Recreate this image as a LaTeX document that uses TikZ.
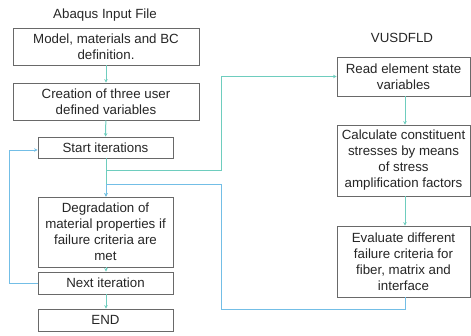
\documentclass[tikz,border=0pt]{standalone}
\usepackage{fontspec}
\setmainfont{Liberation Sans}
\usetikzlibrary{arrows.meta}
\definecolor{flowteal}{RGB}{110,205,190}
\definecolor{loopblue}{RGB}{115,190,230}
\definecolor{boxgray}{RGB}{105,105,105}
\begin{document}
\begin{tikzpicture}[x=1pt,y=-1pt,
  box/.style={draw=boxgray,line width=0.8pt,fill=white,align=center,inner sep=0pt,
    font=\fontsize{13.3}{16}\selectfont,text=black!85},
  ttl/.style={font=\fontsize{13.3}{16}\selectfont,text=black!85},
  fl/.style={draw=flowteal,line width=1pt,-{Stealth[length=3.5pt,width=3.5pt]}},
  lp/.style={draw=loopblue,line width=1pt,-{Stealth[length=3.5pt,width=3.5pt]}}]
\useasboundingbox (0,0) rectangle (471,335);
\node[ttl] (t1) at (105,15) {Abaqus Input File};
\node[ttl] (t2) at (402,38) {VUSDFLD};
\node[box,minimum width=186pt,minimum height=37pt] (b1) at (106,46.5) {Model, materials and BC\\definition.};
\node[box,minimum width=186pt,minimum height=37pt] (b2) at (106,101.5) {Creation of three user\\defined variables};
\node[box,minimum width=135pt,minimum height=21pt] (b3) at (105.5,147.5) {Start iterations};
\node[box,minimum width=135pt,minimum height=70pt] (b4) at (105.5,232) {Degradation of\\material properties if\\failure criteria are\\met};
\node[box,minimum width=135pt,minimum height=22pt] (b5) at (105.5,283) {Next iteration};
\node[box,minimum width=135pt,minimum height=22pt] (b6) at (105.5,320) {END};
\node[box,minimum width=133pt,minimum height=39pt] (r1) at (403.5,76.5) {Read element state\\variables};
\node[box,minimum width=133pt,minimum height=71pt] (r2) at (403.5,160.5) {Calculate constituent\\stresses by means\\of stress\\amplification factors};
\node[box,minimum width=133pt,minimum height=71pt] (r3) at (403.5,261.5) {Evaluate different\\failure criteria for\\fiber, matrix and\\interface};
\coordinate (c1) at (221,170);
\coordinate (c2) at (221,184);
\coordinate (c3) at (221,309);
\coordinate (c4) at (9,150);
\draw[fl] (b1) -- (b2);
\draw[fl] (b2) -- (b3);
\draw[fl] (b3.south -| 106,0) -- (b4.north -| 106,0);
\draw[fl] (b4.south -| 106,0) -- (b5.north -| 106,0);
\draw[fl] (b5.south -| 106,0) -- (b6.north -| 106,0);
\draw[fl] (r1.south -| 405,0) -- (r2.north -| 405,0);
\draw[fl] (r2.south -| 405,0) -- (r3.north -| 405,0);
\draw[fl] (c1 -| 106,0) -- (c1) |- (r1.west);
\draw[lp] (r3.south -| 405,0) |- (c3) -- (c2) -- (c2 -| 106,0) -- (b4.north -| 106,0);
\draw[lp] (b5.west) -| (c4) -- (c4 -| b3.west);
\end{tikzpicture}
\end{document}
